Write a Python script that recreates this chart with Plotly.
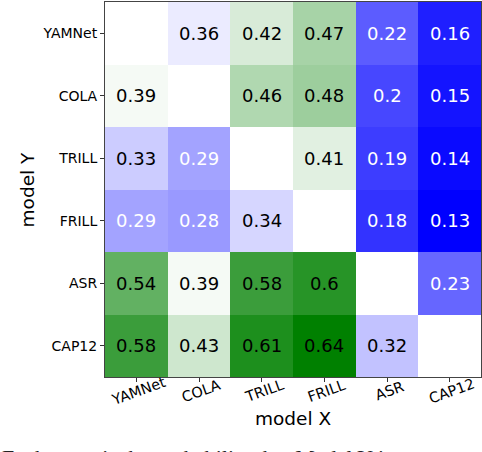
import plotly.graph_objects as go

models = ["YAMNet", "COLA", "TRILL", "FRILL", "ASR", "CAP12"]

# rows = model Y, columns = model X (diagonal empty)
row_yamnet = [None, 0.36, 0.42, 0.47, 0.22, 0.16]
row_cola = [0.39, None, 0.46, 0.48, 0.2, 0.15]
row_trill = [0.33, 0.29, None, 0.41, 0.19, 0.14]
row_frill = [0.29, 0.28, 0.34, None, 0.18, 0.13]
row_asr = [0.54, 0.39, 0.58, 0.6, None, 0.23]
row_cap12 = [0.58, 0.43, 0.61, 0.64, 0.32, None]

z = [row_yamnet, row_cola, row_trill, row_frill, row_asr, row_cap12]

fig = go.Figure()

fig.add_trace(
    go.Heatmap(
        x=models,
        y=models,
        z=z,
        zmin=0.13,
        zmax=0.64,
        colorscale=[[0, "rgb(0,0,255)"], [0.49, "rgb(255,255,255)"], [1, "rgb(0,128,0)"]],
        showscale=False,
        hoverongaps=False,
    )
)

# cell labels: white on the darker blue cells
annotations = []
for i, ym in enumerate(models):
    for j, xm in enumerate(models):
        v = z[i][j]
        if v is None:
            continue
        annotations.append(dict(
            x=xm, y=ym, text=str(v), showarrow=False,
            font=dict(size=18, color="white" if v < 0.3 else "black"),
        ))

# x tick labels centred under the ticks (matplotlib style rotation)
for m in models:
    annotations.append(dict(
        x=m, xref="x", yref="paper", y=-0.037, xanchor="center", yanchor="middle",
        xshift=2, text=m, textangle=-20, showarrow=False, font=dict(size=14.5),
    ))

annotations.append(dict(
    xref="paper", yref="paper", x=0.5, y=-0.111, xanchor="center", yanchor="middle",
    text="model X", showarrow=False, font=dict(size=18.5),
))
annotations.append(dict(
    xref="paper", yref="paper", x=-0.205, y=0.5, xanchor="center", yanchor="middle",
    text="model Y", textangle=-90, showarrow=False, font=dict(size=18.5),
))

# caption of the page, cut off at the bottom
annotations.append(dict(
    xref="paper", yref="paper", x=-0.28, y=-0.177, xanchor="left", yanchor="top",
    text="Each entry is the probability that Model Y is more accurate", showarrow=False,
    font=dict(family="Liberation Serif", size=22, color="#222"),
))

fig.update_layout(
    width=482,
    height=452,
    margin=dict(l=105, r=1, t=2, b=75),
    paper_bgcolor="white",
    plot_bgcolor="white",
    font=dict(family="DejaVu Sans", color="black"),
    annotations=annotations,
    xaxis=dict(
        showticklabels=False,
        ticks="outside", ticklen=4, tickcolor="#333",
        showline=True, linecolor="#444", linewidth=1, mirror=True,
        showgrid=False, zeroline=False,
    ),
    yaxis=dict(
        autorange="reversed",
        tickfont=dict(size=14),
        ticks="outside", ticklen=4, tickcolor="#333",
        showline=True, linecolor="#444", linewidth=1, mirror=True,
        showgrid=False, zeroline=False,
    ),
)

fig.write_html("out.html", post_script="document.body.style.margin='0';",
               config={"displayModeBar": False})
